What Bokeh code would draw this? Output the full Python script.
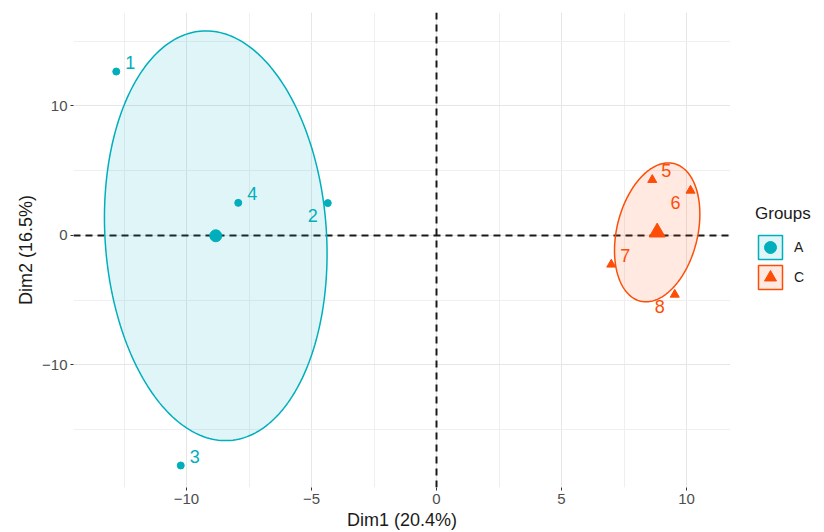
import numpy as np
from bokeh.plotting import figure
from bokeh.layouts import row
from bokeh.models import ColumnDataSource, Span, FixedTicker, Legend, LegendItem, Range1d
from bokeh.core.properties import value
from bokeh.embed import file_html
from bokeh.resources import INLINE

# ---------------- data ----------------
group_names = ["A", "C"]
labels_A = ["1", "2", "3", "4"]
dim1_A = [-12.81, -4.35, -10.23, -7.93]
dim2_A = [12.66, 2.50, -17.76, 2.52]
labels_C = ["5", "6", "7", "8"]
dim1_C = [8.63, 10.16, 6.99, 9.53]
dim2_C = [4.30, 3.47, -2.24, -4.56]
x_ticks = [-10, -5, 0, 5, 10]
y_ticks = [-10, 0, 10]
x_title = "Dim1 (20.4%)"
y_title = "Dim2 (16.5%)"
legend_title = "Groups"

# ---------------- style ----------------
FONT = "Liberation Sans"
COL = {"A": "#00AFBB", "C": "#FC4E07"}
MARK = {"A": "circle", "C": "triangle"}
PT_SIZE = {"A": 7, "C": 9}
CENT_SIZE = {"A": 12, "C": 16}
ELLIPSE_SCALE = 1.24
label_side_A = ["ur", "ll", "ur", "ur"]
label_side_C = ["ur", "ll", "ur", "ll"]
SIDE_OFF = {"ur": (14, -9), "ll": (-15, 12)}


def ellipse(xs, ys, scale, n=240):
    pts = np.column_stack([xs, ys])
    mu = pts.mean(axis=0)
    S = np.cov(pts.T)
    vals, vecs = np.linalg.eigh(S)
    t = np.linspace(0, 2 * np.pi, n)
    circ = np.vstack([np.cos(t), np.sin(t)])
    e = vecs @ (np.sqrt(vals)[:, None] * circ) * scale + mu[:, None]
    return e[0], e[1]


p = figure(width=730, height=532, x_range=Range1d(-14.52, 11.76), y_range=Range1d(-19.46, 17.22),
           output_backend="svg", toolbar_location=None,
           min_border_left=73, min_border_right=0, min_border_top=12, min_border_bottom=45)
p.outline_line_color = None
p.background_fill_color = "white"

# grid
def minors(ticks, lo, hi):
    step = ticks[1] - ticks[0]
    m = [ticks[0] - step / 2] + [(a + b) / 2 for a, b in zip(ticks[:-1], ticks[1:])] + [ticks[-1] + step / 2]
    return [v for v in m if lo <= v <= hi]

p.xgrid.ticker = FixedTicker(ticks=x_ticks, minor_ticks=minors(x_ticks, -14.52, 11.76))
p.ygrid.ticker = FixedTicker(ticks=y_ticks, minor_ticks=minors(y_ticks, -19.46, 17.22))
for g in (p.xgrid, p.ygrid):
    g.grid_line_color = "#E6E6E6"
    g.grid_line_width = 1
    g.minor_grid_line_color = "#EFEFEF"
    g.minor_grid_line_width = 1

# axes
p.xaxis.ticker = FixedTicker(ticks=x_ticks)
p.yaxis.ticker = FixedTicker(ticks=y_ticks)
p.xaxis.major_label_overrides = {t: str(t).replace("-", "\u2212") for t in x_ticks}
p.yaxis.major_label_overrides = {t: str(t).replace("-", "\u2212") for t in y_ticks}
p.xaxis.axis_label = x_title
p.yaxis.axis_label = y_title
for ax in (p.xaxis, p.yaxis):
    ax.axis_line_color = None
    ax.major_tick_line_color = "#333333"
    ax.major_tick_out = 3
    ax.major_tick_in = 0
    ax.minor_tick_line_color = None
    ax.major_label_text_font = FONT
    ax.major_label_text_font_size = "15px"
    ax.major_label_text_color = "#4D4D4D"
    ax.axis_label_text_font = FONT
    ax.axis_label_text_font_size = "18px"
    ax.axis_label_text_font_style = "normal"
    ax.axis_label_text_color = "#1A1A1A"
    ax.major_label_standoff = 3
    ax.axis_label_standoff = 3

# reference lines
p.add_layout(Span(location=0, dimension="width", line_color="#1A1A1A", line_width=2,
                  line_dash="7 5", level="underlay"))
p.add_layout(Span(location=0, dimension="height", line_color="#1A1A1A", line_width=2,
                  line_dash="7 5", level="underlay"))

# legend panel (separate narrow figure to the right of the plot)
q = figure(width=94, height=532, output_backend="svg", toolbar_location=None,
           x_range=Range1d(0, 1), y_range=Range1d(0, 1),
           min_border=0, x_axis_type=None, y_axis_type=None)
q.outline_line_color = None
q.xgrid.visible = False
q.ygrid.visible = False

groups = {
    "A": (labels_A, dim1_A, dim2_A, label_side_A),
    "C": (labels_C, dim1_C, dim2_C, label_side_C),
}
items = []
for g in group_names:
    labs, xs, ys, sides = groups[g]
    c = COL[g]
    ex, ey = ellipse(xs, ys, ELLIPSE_SCALE)
    p.patch(ex, ey, fill_color=c, fill_alpha=0.12, line_color=c, line_width=1.5)
    src = ColumnDataSource(dict(x=xs, y=ys, lab=labs,
                                xo=[SIDE_OFF[s][0] for s in sides],
                                yo=[SIDE_OFF[s][1] for s in sides]))
    p.scatter("x", "y", source=src, marker=MARK[g], size=PT_SIZE[g], color=c)
    p.text("x", "y", text="lab", source=src, x_offset="xo", y_offset="yo",
           text_font=value(FONT), text_font_size="18px", text_color=c,
           text_align="center", text_baseline="middle")
    cx, cy = float(np.mean(xs)), float(np.mean(ys))
    p.scatter([cx], [cy], marker=MARK[g], size=CENT_SIZE[g], color=c)
    # legend key glyphs: placed outside the legend panel's range, only their look is used
    kp = q.patch([-5, -4, -4], [-5, -5, -4], fill_color=c, fill_alpha=0.12, line_color=c, line_width=1.5)
    ks = q.scatter([-5], [-5], marker=MARK[g], size=CENT_SIZE[g], color=c)
    items.append(LegendItem(label=g, renderers=[kp, ks]))

legend = Legend(items=items, title=legend_title, location=(25, 195),
                glyph_width=30, glyph_height=30, spacing=0, label_standoff=9,
                padding=0, margin=0, border_line_color=None, background_fill_alpha=0,
                title_text_font=FONT, title_text_font_size="17px", title_text_color="#1A1A1A",
                title_text_font_style="normal",
                title_standoff=8, label_text_font=FONT, label_text_font_size="14px",
                label_text_color="#1A1A1A")
q.add_layout(legend, "center")

layout = row(p, q, spacing=0)
open("out.html", "w").write(file_html(layout, INLINE))
